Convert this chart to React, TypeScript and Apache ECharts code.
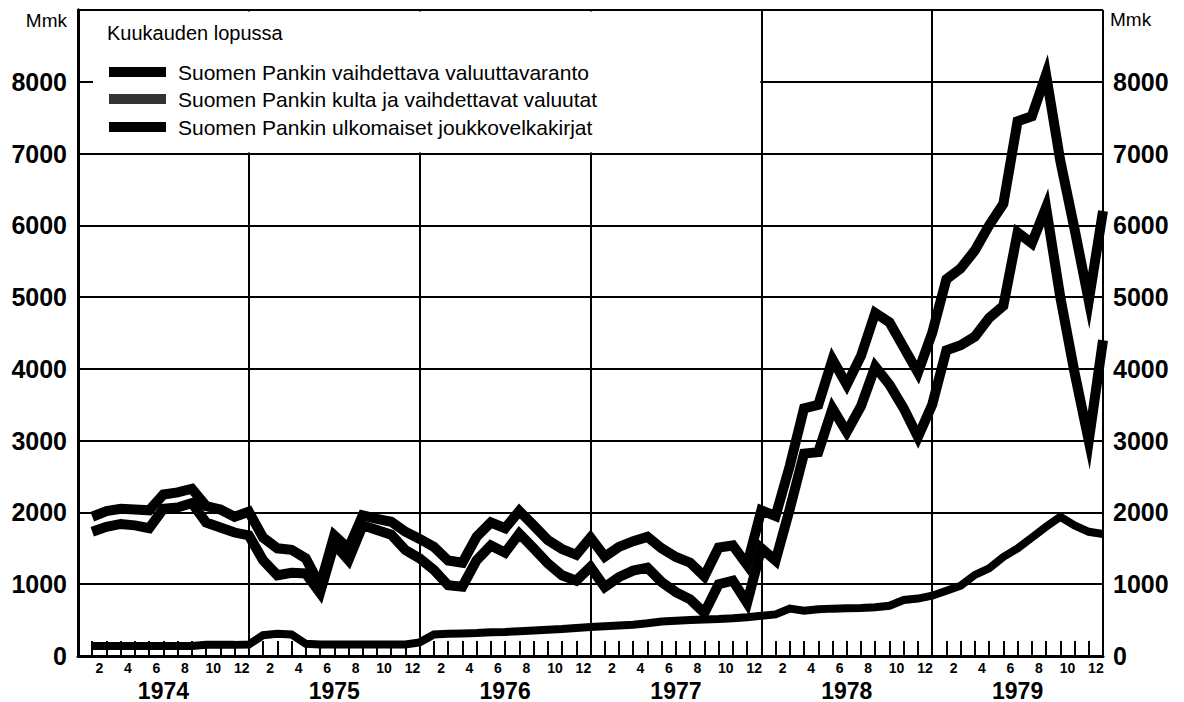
import React, { useEffect, useRef } from "react";
import * as echarts from "echarts";

// Month-end values (Mmk), one entry per month, Jan..Dec
const years = ["1974", "1975", "1976", "1977", "1978", "1979"];
const monthLabels = [1, 2, 3, 4, 5, 6, 7, 8, 9, 10, 11, 12];

const valuuttavaranto1974 = [1940, 2020, 2050, 2040, 2030, 2250, 2280, 2330, 2090, 2040, 1940, 2010];
const valuuttavaranto1975 = [1650, 1500, 1480, 1360, 980, 1680, 1500, 1960, 1910, 1870, 1730, 1630];
const valuuttavaranto1976 = [1520, 1330, 1300, 1660, 1860, 1780, 2020, 1820, 1615, 1490, 1410, 1650];
const valuuttavaranto1977 = [1385, 1520, 1600, 1660, 1500, 1380, 1300, 1110, 1510, 1540, 1270, 2030];
const valuuttavaranto1978 = [1950, 2650, 3450, 3500, 4130, 3780, 4180, 4780, 4650, 4300, 3950, 4500];
const valuuttavaranto1979 = [5250, 5400, 5650, 6000, 6300, 7450, 7520, 8100, 6900, 5950, 4950, 6200];

const kultaValuutat1974 = [1730, 1800, 1840, 1820, 1780, 2050, 2070, 2130, 1860, 1790, 1720, 1680];
const kultaValuutat1975 = [1335, 1125, 1160, 1150, 880, 1560, 1335, 1820, 1755, 1690, 1475, 1360];
const kultaValuutat1976 = [1200, 985, 965, 1335, 1540, 1440, 1705, 1500, 1290, 1125, 1050, 1240];
const kultaValuutat1977 = [960, 1100, 1190, 1230, 1030, 890, 790, 600, 1000, 1050, 740, 1500];
const kultaValuutat1978 = [1330, 2050, 2820, 2840, 3450, 3120, 3480, 4030, 3780, 3450, 3050, 3500];
const kultaValuutat1979 = [4260, 4330, 4450, 4710, 4880, 5900, 5750, 6250, 5000, 3950, 3000, 4400];

const joukkovelkakirjat1974 = [140, 140, 140, 140, 140, 140, 140, 140, 155, 155, 155, 160];
const joukkovelkakirjat1975 = [290, 310, 300, 170, 160, 160, 160, 160, 160, 160, 160, 190];
const joukkovelkakirjat1976 = [300, 310, 315, 320, 330, 335, 345, 355, 365, 375, 390, 405];
const joukkovelkakirjat1977 = [415, 425, 435, 455, 480, 490, 500, 510, 515, 525, 540, 560];
const joukkovelkakirjat1978 = [580, 660, 630, 650, 660, 665, 670, 680, 700, 780, 800, 840];
const joukkovelkakirjat1979 = [910, 980, 1130, 1220, 1380, 1500, 1650, 1800, 1940, 1820, 1730, 1700];

const seriesNames = [
  "Suomen Pankin vaihdettava valuuttavaranto",
  "Suomen Pankin kulta ja vaihdettavat valuutat",
  "Suomen Pankin ulkomaiset joukkovelkakirjat",
];
const legendTitle = "Kuukauden lopussa";
const unitLabel = "Mmk";

const valuuttavaranto = [
  ...valuuttavaranto1974, ...valuuttavaranto1975, ...valuuttavaranto1976,
  ...valuuttavaranto1977, ...valuuttavaranto1978, ...valuuttavaranto1979,
];
const kultaValuutat = [
  ...kultaValuutat1974, ...kultaValuutat1975, ...kultaValuutat1976,
  ...kultaValuutat1977, ...kultaValuutat1978, ...kultaValuutat1979,
];
const joukkovelkakirjat = [
  ...joukkovelkakirjat1974, ...joukkovelkakirjat1975, ...joukkovelkakirjat1976,
  ...joukkovelkakirjat1977, ...joukkovelkakirjat1978, ...joukkovelkakirjat1979,
];

const FONT = "'Liberation Sans', Arial, Helvetica, sans-serif";
const W = 1184;
const H = 702;
const GRID = { left: 78, right: 81, top: 10, bottom: 46 };
const NMONTHS = years.length * 12;

export default function App() {
  const ref = useRef<HTMLDivElement>(null);

  useEffect(() => {
    if (!ref.current) return;
    const chart = echarts.init(ref.current, undefined, { renderer: "svg", width: W, height: H });

    const toPoints = (arr: number[]) => arr.map((v, i) => [i + 1, v]);
    const monthCats: string[] = [];
    years.forEach(() => monthLabels.forEach((m) => monthCats.push(String(m))));

    const lineSeries = (name: string, data: number[], width: number) => ({
      name,
      type: "line",
      xAxisIndex: 0,
      yAxisIndex: 0,
      data: toPoints(data),
      showSymbol: false,
      symbol: "none",
      silent: true,
      lineStyle: { color: "#000", width, join: "miter", miterLimit: 6, cap: "butt" },
      itemStyle: { color: "#000" },
      z: 3,
    });

    chart.setOption({
      animation: false,
      backgroundColor: "#fff",
      grid: { ...GRID, containLabel: false },
      xAxis: [
        {
          type: "value",
          min: 0,
          max: NMONTHS,
          interval: 1,
          position: "bottom",
          axisLine: { show: true, onZero: false, lineStyle: { color: "#000", width: 3 } },
          axisTick: { show: true, inside: true, length: 15, lineStyle: { color: "#000", width: 2 } },
          splitLine: { show: false },
          axisLabel: {
            show: true,
            margin: 23,
            fontFamily: FONT,
            fontSize: 23,
            lineHeight: 23,
            fontWeight: "bold",
            color: "#000",
            showMinLabel: true,
            showMaxLabel: true,
            formatter: (v: number) => (Math.round(v) % 12 === 6 ? years[(Math.round(v) - 6) / 12] : ""),
          },
        },
        {
          type: "value",
          min: 0,
          max: NMONTHS,
          interval: 12,
          position: "bottom",
          axisLine: { show: false },
          axisTick: { show: false },
          axisLabel: { show: false },
          splitLine: { show: true, lineStyle: { color: "#000", width: 2 } },
        },
        {
          type: "category",
          data: monthCats,
          boundaryGap: true,
          position: "bottom",
          axisLine: { show: false },
          axisTick: { show: false },
          splitLine: { show: false },
          axisLabel: {
            interval: 0,
            margin: 5,
            fontFamily: FONT,
            fontSize: 14,
            lineHeight: 14,
            fontWeight: "bold",
            color: "#000",
            formatter: (v: string) => (Number(v) % 2 === 0 ? v : ""),
          },
        },
      ],
      yAxis: [
        {
          type: "value",
          min: 0,
          max: 9000,
          interval: 1000,
          position: "left",
          axisLine: { show: true, lineStyle: { color: "#000", width: 3 } },
          axisTick: { show: false },
          splitLine: { show: true, lineStyle: { color: "#000", width: 2 } },
          axisLabel: {
            margin: 11,
            fontFamily: FONT,
            fontSize: 25,
            fontWeight: "bold",
            color: "#000",
            formatter: (v: number) => (v === 9000 ? "" : String(v)),
          },
        },
        {
          type: "value",
          min: 0,
          max: 9000,
          interval: 1000,
          position: "right",
          axisLine: { show: true, lineStyle: { color: "#000", width: 3 } },
          axisTick: { show: false },
          splitLine: { show: false },
          axisLabel: {
            margin: 10,
            fontFamily: FONT,
            fontSize: 25,
            fontWeight: "bold",
            color: "#000",
            formatter: (v: number) => (v === 9000 ? "" : String(v)),
          },
        },
      ],
      series: [
        lineSeries(seriesNames[0], valuuttavaranto, 10),
        lineSeries(seriesNames[1], kultaValuutat, 10),
        lineSeries(seriesNames[2], joukkovelkakirjat, 8),
      ],
    });

    // legend box: white panel over the grid, from the top edge down to the 7000 line,
    // from just right of the left axis to the 1978 boundary
    const p0 = chart.convertToPixel({ xAxisIndex: 0, yAxisIndex: 0 }, [0, 9000]) as number[];
    const p1 = chart.convertToPixel({ xAxisIndex: 0, yAxisIndex: 0 }, [48, 7000]) as number[];
    const boxX = p0[0] + 15;
    const boxY = p0[1] + 1.5;
    const boxW = p1[0] - 1 - boxX;
    const boxH = p1[1] - 1 - boxY;

    const rowY = [72, 99, 127];
    const swatchColors = ["#000", "#333", "#000"];
    const legendEls: any[] = [];
    seriesNames.forEach((name, i) => {
      legendEls.push({
        type: "rect",
        shape: { x: 109, y: rowY[i] - 5, width: 57, height: 10 },
        style: { fill: swatchColors[i] },
        z: 11,
      });
      legendEls.push({
        type: "text",
        x: 178,
        y: rowY[i],
        style: {
          text: name,
          fontFamily: FONT,
          fontSize: 21,
          fill: "#000",
          verticalAlign: "middle",
        },
        z: 11,
      });
    });

    chart.setOption({
      graphic: [
        {
          type: "rect",
          shape: { x: boxX, y: boxY, width: boxW, height: boxH },
          style: { fill: "#fff" },
          z: 10,
        },
        {
          type: "text",
          x: 107,
          y: 33,
          style: {
            text: legendTitle,
            fontFamily: FONT,
            fontSize: 20,
            fill: "#000",
            verticalAlign: "middle",
          },
          z: 11,
        },
        ...legendEls,
        {
          type: "text",
          x: 67,
          y: 20,
          style: {
            text: unitLabel,
            fontFamily: FONT,
            fontSize: 19,
            fill: "#000",
            align: "right",
            verticalAlign: "middle",
          },
          z: 11,
        },
        {
          type: "text",
          x: 1110,
          y: 19,
          style: {
            text: unitLabel,
            fontFamily: FONT,
            fontSize: 19,
            fill: "#000",
            align: "left",
            verticalAlign: "middle",
          },
          z: 11,
        },
      ],
    });

    return () => chart.dispose();
  }, []);

  return (
    <div
      ref={ref}
      style={{ position: "fixed", left: 0, top: 0, width: W, height: H, background: "#fff" }}
    />
  );
}
